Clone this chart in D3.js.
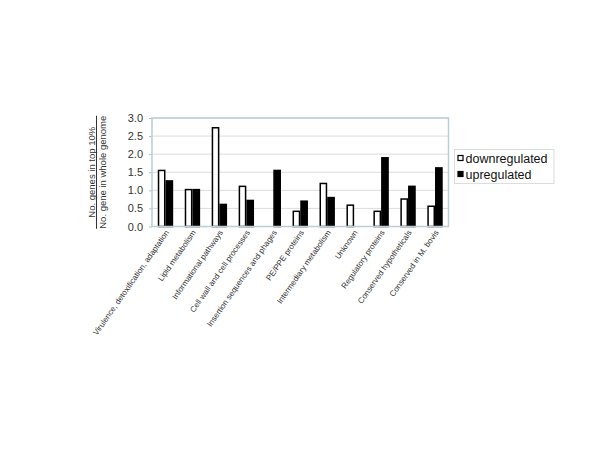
<!DOCTYPE html>
<html>
<head>
<meta charset="utf-8">
<script src="https://cdn.jsdelivr.net/npm/d3@7"></script>
<style>
body { margin: 0; background: #fff; }
svg { display: block; font-family: Arial, "Liberation Sans", sans-serif; }
</style>
</head>
<body>
<svg id="chart" width="600" height="450"></svg>
<script>
const categories = [
  "Virulence, detoxification, adaptation",
  "Lipid metabolism",
  "Informational pathways",
  "Cell wall and cell processes",
  "Insertion sequences and phages",
  "PE/PPE proteins",
  "Intermediary metabolism",
  "Unknown",
  "Regulatory proteins",
  "Conserved hypotheticals",
  "Conserved in M. bovis"
];
const seriesNames = ["downregulated", "upregulated"];
const downregulated = [1.55, 1.02, 2.73, 1.11, 0.0, 0.42, 1.19, 0.59, 0.42, 0.76, 0.56];
const upregulated   = [1.26, 1.02, 0.61, 0.72, 1.55, 0.70, 0.80, 0.0, 1.90, 1.11, 1.62];
const yTicks = [0, 0.5, 1.0, 1.5, 2.0, 2.5, 3.0];
const yTitleTop = "No. genes in top 10%";
const yTitleBottom = "No. gene in whole genome";

const svg = d3.select("#chart");
const plot = { left: 152, right: 448.5, top: 118, bottom: 226.5 };

const x0 = d3.scaleBand().domain(categories).range([plot.left, plot.right]).padding(0);
const step = x0.bandwidth();
const gap = step * 0.75 / 3.5;
const x1 = d3.scaleBand().domain(seriesNames).range([gap, step - gap]).padding(0);
const y = d3.scaleLinear().domain([0, 3]).range([plot.bottom, plot.top]);

// gridlines
svg.append("g").selectAll("line").data(yTicks.slice(1)).join("line")
  .attr("x1", plot.left).attr("x2", plot.right)
  .attr("y1", d => y(d)).attr("y2", d => y(d))
  .attr("stroke", "#dcdcdc").attr("stroke-width", 1);

// y axis
const yAxis = d3.axisLeft(y).tickValues(yTicks).tickFormat(d3.format(".1f")).tickSize(3).tickPadding(6);
const ya = svg.append("g").attr("transform", `translate(${plot.left},0)`).call(yAxis);
ya.select(".domain").remove();
ya.selectAll("line").attr("stroke", "#bbbbbb");
ya.selectAll("text").attr("font-size", 11).attr("fill", "#333").attr("font-family", "Arial, 'Liberation Sans', sans-serif");

// bars
const data = categories.map((c, i) => ({ cat: c, vals: [downregulated[i], upregulated[i]] }));
const groups = svg.append("g").selectAll("g").data(data).join("g")
  .attr("transform", d => `translate(${x0(d.cat)},0)`);
groups.selectAll("rect").data(d => d.vals.map((v, j) => ({ s: seriesNames[j], v })).filter(e => e.v > 0)).join("rect")
  .attr("x", e => x1(e.s) + 0.75)
  .attr("width", x1.bandwidth() - 1.5)
  .attr("y", e => y(e.v))
  .attr("height", e => y(0) - y(e.v))
  .attr("fill", e => e.s === "downregulated" ? "#ffffff" : "#000000")
  .attr("stroke", "#000").attr("stroke-width", 1.5);

// x axis line (bottom)
svg.append("line").attr("x1", plot.left).attr("x2", plot.right)
  .attr("y1", plot.bottom).attr("y2", plot.bottom)
  .attr("stroke", "#b9cfd3").attr("stroke-width", 1);

// plot border
svg.append("rect").attr("x", plot.left).attr("y", plot.top)
  .attr("width", plot.right - plot.left).attr("height", plot.bottom - plot.top)
  .attr("fill", "none").attr("stroke", "#b9cfd3").attr("stroke-width", 1.5);

// x labels
svg.append("g").selectAll("text").data(categories).join("text")
  .attr("transform", d => `translate(${x0(d) + step / 2 + 4},${plot.bottom + 6}) rotate(-55)`)
  .attr("text-anchor", "end")
  .attr("font-size", 8)
  .attr("fill", "#333")
  .text(d => d);

// y title (fraction)
const cy = (plot.top + plot.bottom) / 2;
const t1 = svg.append("text")
  .attr("transform", `translate(95,${cy}) rotate(-90)`)
  .attr("text-anchor", "middle").attr("font-size", 9.5).attr("fill", "#333")
  .text(yTitleTop);
const t2 = svg.append("text")
  .attr("transform", `translate(105.5,${cy}) rotate(-90)`)
  .attr("text-anchor", "middle").attr("font-size", 9.5).attr("fill", "#333")
  .text(yTitleBottom);
const w = Math.max(t1.node().getComputedTextLength(), t2.node().getComputedTextLength());
svg.append("line").attr("x1", 96.5).attr("x2", 96.5)
  .attr("y1", cy - w / 2).attr("y2", cy + w / 2)
  .attr("stroke", "#333").attr("stroke-width", 1);

// legend
const lg = svg.append("g").attr("transform", "translate(454.5,149.5)");
lg.append("rect").attr("width", 99.5).attr("height", 34).attr("fill", "#fff").attr("stroke", "#dddddd");
seriesNames.forEach((s, i) => {
  const row = lg.append("g").attr("transform", `translate(0,${i * 16})`);
  row.append("rect").attr("x", 3.5).attr("y", 6).attr("width", 5).attr("height", 5)
    .attr("fill", s === "downregulated" ? "#fff" : "#000").attr("stroke", "#000").attr("stroke-width", 1.2);
  row.append("text").attr("x", 11).attr("y", 13).attr("font-size", 12.5).attr("fill", "#111").text(s);
});
</script>
</body>
</html>
